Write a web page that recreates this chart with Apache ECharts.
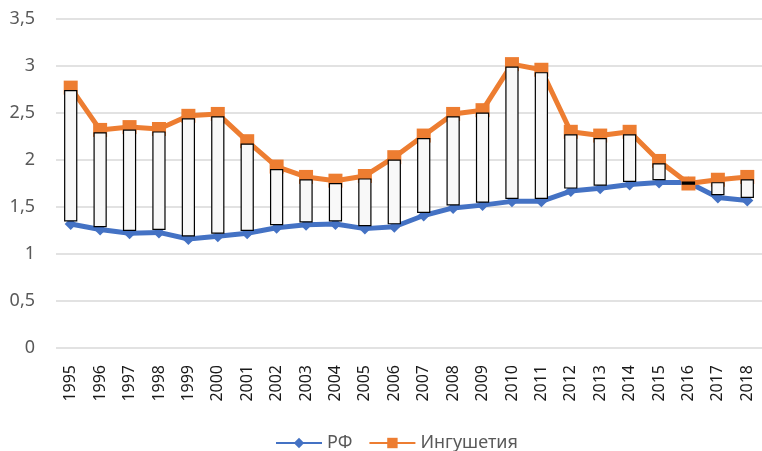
<!DOCTYPE html>
<html>
<head>
<meta charset="utf-8">
<script src="https://cdn.jsdelivr.net/npm/echarts@6/dist/echarts.min.js"></script>
<style>
html,body{margin:0;padding:0;background:#fff;}
#chart{width:762px;height:451px;}
</style>
</head>
<body>
<div id="chart"></div>
<script>
var years = ['1995','1996','1997','1998','1999','2000','2001','2002','2003','2004','2005','2006',
	'2007','2008','2009','2010','2011','2012','2013','2014','2015','2016','2017','2018'];
var rf = [1.32,1.26,1.22,1.23,1.16,1.19,1.22,1.28,1.31,1.32,1.27,1.29,
	1.41,1.49,1.52,1.56,1.56,1.67,1.70,1.74,1.76,1.76,1.60,1.57];
var ing = [2.77,2.32,2.35,2.33,2.47,2.49,2.20,1.93,1.82,1.78,1.83,2.03,
	2.26,2.49,2.53,3.02,2.96,2.30,2.26,2.30,1.99,1.75,1.79,1.82];

var myChart = echarts.init(document.getElementById('chart'));

// up-down bars between the two lines
var boxData = [];
for (var i = 0; i < years.length; i++) {
	boxData.push([i, rf[i], ing[i]]);
}

function renderBox(params, api) {
	var lo = api.coord([api.value(0), api.value(1)]);
	var hi = api.coord([api.value(0), api.value(2)]);
	var w = api.size([1, 0])[0] * 0.41;
	var down = api.value(2) < api.value(1);
	var top = Math.min(lo[1], hi[1]) + 3;
	var h = Math.abs(lo[1] - hi[1]) - 6;
	if (h < 2) {
		top = (lo[1] + hi[1]) / 2 - 1;
		h = 2;
	}
	return {
		type: 'rect',
		shape: {x: lo[0] - w / 2, y: top, width: w, height: h},
		style: {fill: down ? '#000' : '#f8f8f8', stroke: '#000', lineWidth: 1.2}
	};
}

var option = {
	animation: false,
	grid: {left: 56, right: -4, top: 19, bottom: 103},
	legend: {
		data: ['РФ', 'Ингушетия'],
		top: 429,
		left: 270,
		itemWidth: 46,
		itemHeight: 13,
		itemGap: 16,
		textStyle: {color: '#595959', fontSize: 18, fontFamily: 'Noto Sans'}
	},
	xAxis: {
		type: 'category',
		data: years,
		axisTick: {show: false},
		axisLine: {show: false},
		axisLabel: {
			rotate: 90,
			color: '#1a1a1a',
			fontSize: 16,
			fontFamily: 'Noto Sans',
			margin: 17
		}
	},
	yAxis: {
		type: 'value',
		min: 0,
		max: 3.5,
		interval: 0.5,
		axisLabel: {
			color: '#595959',
			fontSize: 18,
			fontFamily: 'Noto Sans',
			margin: 21,
			formatter: function (v) { return String(v).replace('.', ','); }
		},
		splitLine: {lineStyle: {color: '#d9d9d9', width: 1.5}}
	},
	series: [
		{
			name: 'РФ',
			type: 'line',
			data: rf,
			symbol: 'diamond',
			symbolSize: 12,
			lineStyle: {color: '#4472c4', width: 5},
			itemStyle: {color: '#4472c4'},
			z: 2
		},
		{
			name: 'Ингушетия',
			type: 'line',
			data: ing,
			symbol: 'rect',
			symbolSize: 14,
			lineStyle: {color: '#ed7d31', width: 5},
			itemStyle: {color: '#ed7d31'},
			z: 3
		},
		{
			name: 'bars',
			type: 'custom',
			renderItem: renderBox,
			data: boxData,
			encode: {x: 0, y: [1, 2]},
			z: 4
		}
	]
};

myChart.setOption(option);
</script>
</body>
</html>
